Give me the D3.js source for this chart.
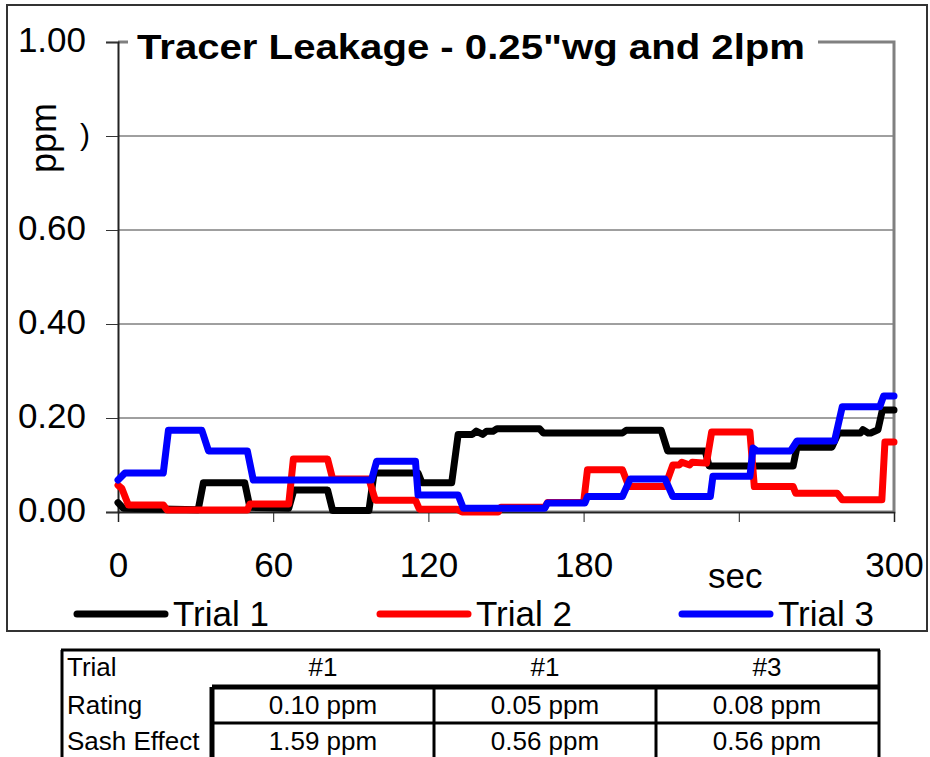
<!DOCTYPE html>
<html>
<head>
<meta charset="utf-8">
<script src="https://cdn.jsdelivr.net/npm/d3@7"></script>
<style>
body { margin: 0; background: #fff; }
text { font-family: "Liberation Sans", Arial, sans-serif; }
</style>
</head>
<body>
<svg id="chart"></svg>
<script>
// seconds / ppm (step changes only)
const trial1Sec = [0, 2, 31, 33, 49, 51, 66, 68, 81, 83, 97, 99, 116, 117.5, 129, 131.5, 137, 138.5, 141, 142.5, 145, 146.5, 163, 164.5, 195, 196.5, 210, 212.5, 227, 228.5, 261, 262.5, 276, 278.5, 287, 288, 290, 291, 293.8, 295.5, 300];
const trial1Ppm = [0.02, 0.008, 0.005, 0.062, 0.062, 0.01, 0.008, 0.047, 0.047, 0.003, 0.003, 0.083, 0.083, 0.062, 0.062, 0.165, 0.165, 0.172, 0.165, 0.172, 0.172, 0.177, 0.177, 0.168, 0.168, 0.174, 0.174, 0.13, 0.13, 0.098, 0.098, 0.138, 0.138, 0.168, 0.168, 0.175, 0.168, 0.168, 0.175, 0.217, 0.217];

const trial2Sec = [0, 1.5, 4, 17.5, 19, 50, 51, 66, 67.8, 81, 83, 97, 99.5, 115, 116.5, 131, 133, 147, 148, 165, 166, 180, 181.5, 195, 197.5, 211.5, 214.5, 217, 218, 221, 222, 227.5, 229.5, 244.3, 246, 261, 262, 278, 280, 295.3, 296.5, 300];
const trial2Ppm = [0.057, 0.05, 0.015, 0.015, 0.004, 0.004, 0.017, 0.017, 0.113, 0.113, 0.07, 0.07, 0.025, 0.025, 0.006, 0.006, 0.0, 0.0, 0.01, 0.01, 0.02, 0.02, 0.09, 0.09, 0.054, 0.054, 0.1, 0.1, 0.106, 0.1, 0.106, 0.104, 0.17, 0.17, 0.054, 0.054, 0.04, 0.04, 0.026, 0.026, 0.149, 0.149];

const trial3Sec = [0, 2.7, 17.5, 19.5, 32.4, 35, 50, 52.3, 98, 100, 115, 116, 131.5, 133.5, 165, 166, 180.5, 181.5, 195, 198, 211.5, 214.5, 229, 230, 244.3, 245.5, 247, 260, 262.5, 277, 280, 294.5, 296, 300];
const trial3Ppm = [0.068, 0.083, 0.083, 0.174, 0.174, 0.13, 0.13, 0.068, 0.068, 0.108, 0.108, 0.036, 0.036, 0.008, 0.008, 0.019, 0.019, 0.033, 0.033, 0.07, 0.07, 0.033, 0.033, 0.076, 0.076, 0.136, 0.13, 0.13, 0.151, 0.151, 0.224, 0.224, 0.247, 0.247];

const seriesNames = ["Trial 1", "Trial 2", "Trial 3"];
const seriesColors = ["#000000", "#ff0000", "#0000ff"];
const yTicks = [0, 0.2, 0.4, 0.6, 0.8, 1.0];
const xTicks = [0, 60, 120, 180, 240, 300];

const tableTrials = ["#1", "#1", "#3"];
const tableRatings = ["0.10 ppm", "0.05 ppm", "0.08 ppm"];
const tableSash = ["1.59 ppm", "0.56 ppm", "0.56 ppm"];

const width = 930, height = 757;
const svg = d3.select("#chart").attr("width", width).attr("height", height);

svg.append("rect").attr("width", width).attr("height", height).attr("fill", "#fff");

// outer chart frame
svg.append("rect")
   .attr("x", 7).attr("y", 5).attr("width", 920).attr("height", 626)
   .attr("fill", "none").attr("stroke", "#333").attr("stroke-width", 2);

const x = d3.scaleLinear().domain([0, 300]).range([118, 894]);
const y = d3.scaleLinear().domain([0, 1]).range([512, 42]);

// grid
svg.append("g")
   .selectAll("line")
   .data(yTicks.filter(d => d > 0 && d < 1))
   .enter()
   .append("line")
   .attr("x1", x(0)).attr("x2", x(300))
   .attr("y1", d => y(d)).attr("y2", d => y(d))
   .attr("stroke", "#404040").attr("stroke-width", 1);

// plot area border (gray)
svg.append("path")
   .attr("d", `M${x(0)},${y(1)}H${x(300)}V${y(0)}H${x(0)}`)
   .attr("fill", "none").attr("stroke", "#808080").attr("stroke-width", 3);

const yAxis = svg.append("g")
   .attr("transform", `translate(${x(0)},0)`)
   .call(d3.axisLeft(y).tickValues(yTicks).tickSize(12).tickPadding(20)
         .tickFormat(d => Math.abs(d - 0.8) < 1e-9 ? "" : d3.format(".2f")(d)));
yAxis.select(".domain").attr("stroke", "#222").attr("stroke-width", 2);
yAxis.selectAll(".tick line").attr("stroke", "#333");
yAxis.selectAll("text").attr("font-size", 35).attr("dy", "0.26em").attr("fill", "#000")
     .attr("font-family", "Liberation Sans, Arial, sans-serif");

const xAxis = svg.append("g")
   .attr("transform", `translate(0,${y(0)})`)
   .call(d3.axisBottom(x).tickValues(xTicks).tickSize(10).tickPadding(30)
         .tickFormat(d => d === 240 ? "" : d));
xAxis.select(".domain").attr("stroke", "#222").attr("stroke-width", 1.5);
xAxis.selectAll(".tick line").attr("stroke", "#222");
xAxis.selectAll("text").attr("font-size", 35).attr("fill", "#000")
     .attr("font-family", "Liberation Sans, Arial, sans-serif");

// lines
const line = d3.line().x(d => x(d[0])).y(d => y(d[1]));
const series = [
    d3.zip(trial1Sec, trial1Ppm),
    d3.zip(trial2Sec, trial2Ppm),
    d3.zip(trial3Sec, trial3Ppm)
];
svg.append("g")
   .selectAll("path")
   .data(series)
   .enter()
   .append("path")
   .attr("d", line)
   .attr("fill", "none")
   .attr("stroke", (_, i) => seriesColors[i])
   .attr("stroke-width", 7)
   .attr("stroke-linejoin", "round")
   .attr("stroke-linecap", "round");

// title on white box
svg.append("rect").attr("x", 128).attr("y", 24).attr("width", 690).attr("height", 44).attr("fill", "#fff");
svg.append("text")
   .attr("x", 137).attr("y", 59)
   .attr("font-size", 35).attr("font-weight", "bold")
   .attr("textLength", 668).attr("lengthAdjust", "spacingAndGlyphs")
   .text('Tracer Leakage - 0.25"wg and 2lpm');

// axis titles
svg.append("text")
   .attr("transform", "translate(56,138) rotate(-90)")
   .attr("text-anchor", "middle").attr("font-size", 36)
   .text("ppm");
svg.append("text").attr("x", 80).attr("y", 145).attr("font-size", 30).text(")");
svg.append("text").attr("x", 708).attr("y", 588).attr("font-size", 35).text("sec");

// legend
const legendX = [77, 380, 682];
const legend = svg.append("g")
   .selectAll("g")
   .data(seriesNames)
   .enter()
   .append("g")
   .attr("transform", (_, i) => `translate(${legendX[i]},614)`);
legend.append("line")
   .attr("x1", 0).attr("x2", 88)
   .attr("stroke", (_, i) => seriesColors[i])
   .attr("stroke-width", 7).attr("stroke-linecap", "round");
legend.append("text")
   .attr("x", 96).attr("y", 12)
   .attr("font-size", 35)
   .text(d => d);

// table below chart
const colEdges = [212, 434, 656, 878];
const rowEdges = [650, 687, 723, 760];
const tbl = svg.append("g").attr("stroke", "#000").attr("fill", "none");
tbl.append("line").attr("x1", 61).attr("x2", 880).attr("y1", rowEdges[0]).attr("y2", rowEdges[0]).attr("stroke-width", 3);
tbl.append("line").attr("x1", 62).attr("x2", 62).attr("y1", rowEdges[0]).attr("y2", height).attr("stroke-width", 3);
tbl.append("line").attr("x1", 879).attr("x2", 879).attr("y1", rowEdges[0]).attr("y2", height).attr("stroke-width", 3);
tbl.append("line").attr("x1", colEdges[0]).attr("x2", 880).attr("y1", rowEdges[1]).attr("y2", rowEdges[1]).attr("stroke-width", 5);
tbl.append("line").attr("x1", colEdges[0]).attr("x2", 880).attr("y1", rowEdges[2]).attr("y2", rowEdges[2]).attr("stroke-width", 3);
tbl.append("line").attr("x1", colEdges[0]).attr("x2", colEdges[0]).attr("y1", rowEdges[1]).attr("y2", height).attr("stroke-width", 5);
tbl.selectAll(".col")
   .data(colEdges.slice(1, 3))
   .enter()
   .append("line")
   .attr("x1", d => d).attr("x2", d => d)
   .attr("y1", rowEdges[1]).attr("y2", height)
   .attr("stroke-width", 3);

const rowLabels = ["Trial", "Rating", "Sash Effect"];
const rowBase = [676, 714, 750];
svg.append("g")
   .selectAll("text")
   .data(rowLabels)
   .enter()
   .append("text")
   .attr("x", 67).attr("y", (_, i) => rowBase[i])
   .attr("font-size", 26)
   .text(d => d);

[tableTrials, tableRatings, tableSash].forEach((row, r) => {
    svg.append("g")
       .selectAll("text")
       .data(row)
       .enter()
       .append("text")
       .attr("x", (_, i) => (colEdges[i] + colEdges[i + 1]) / 2)
       .attr("y", rowBase[r])
       .attr("text-anchor", "middle")
       .attr("font-size", 26)
       .text(d => d);
});
</script>
</body>
</html>
